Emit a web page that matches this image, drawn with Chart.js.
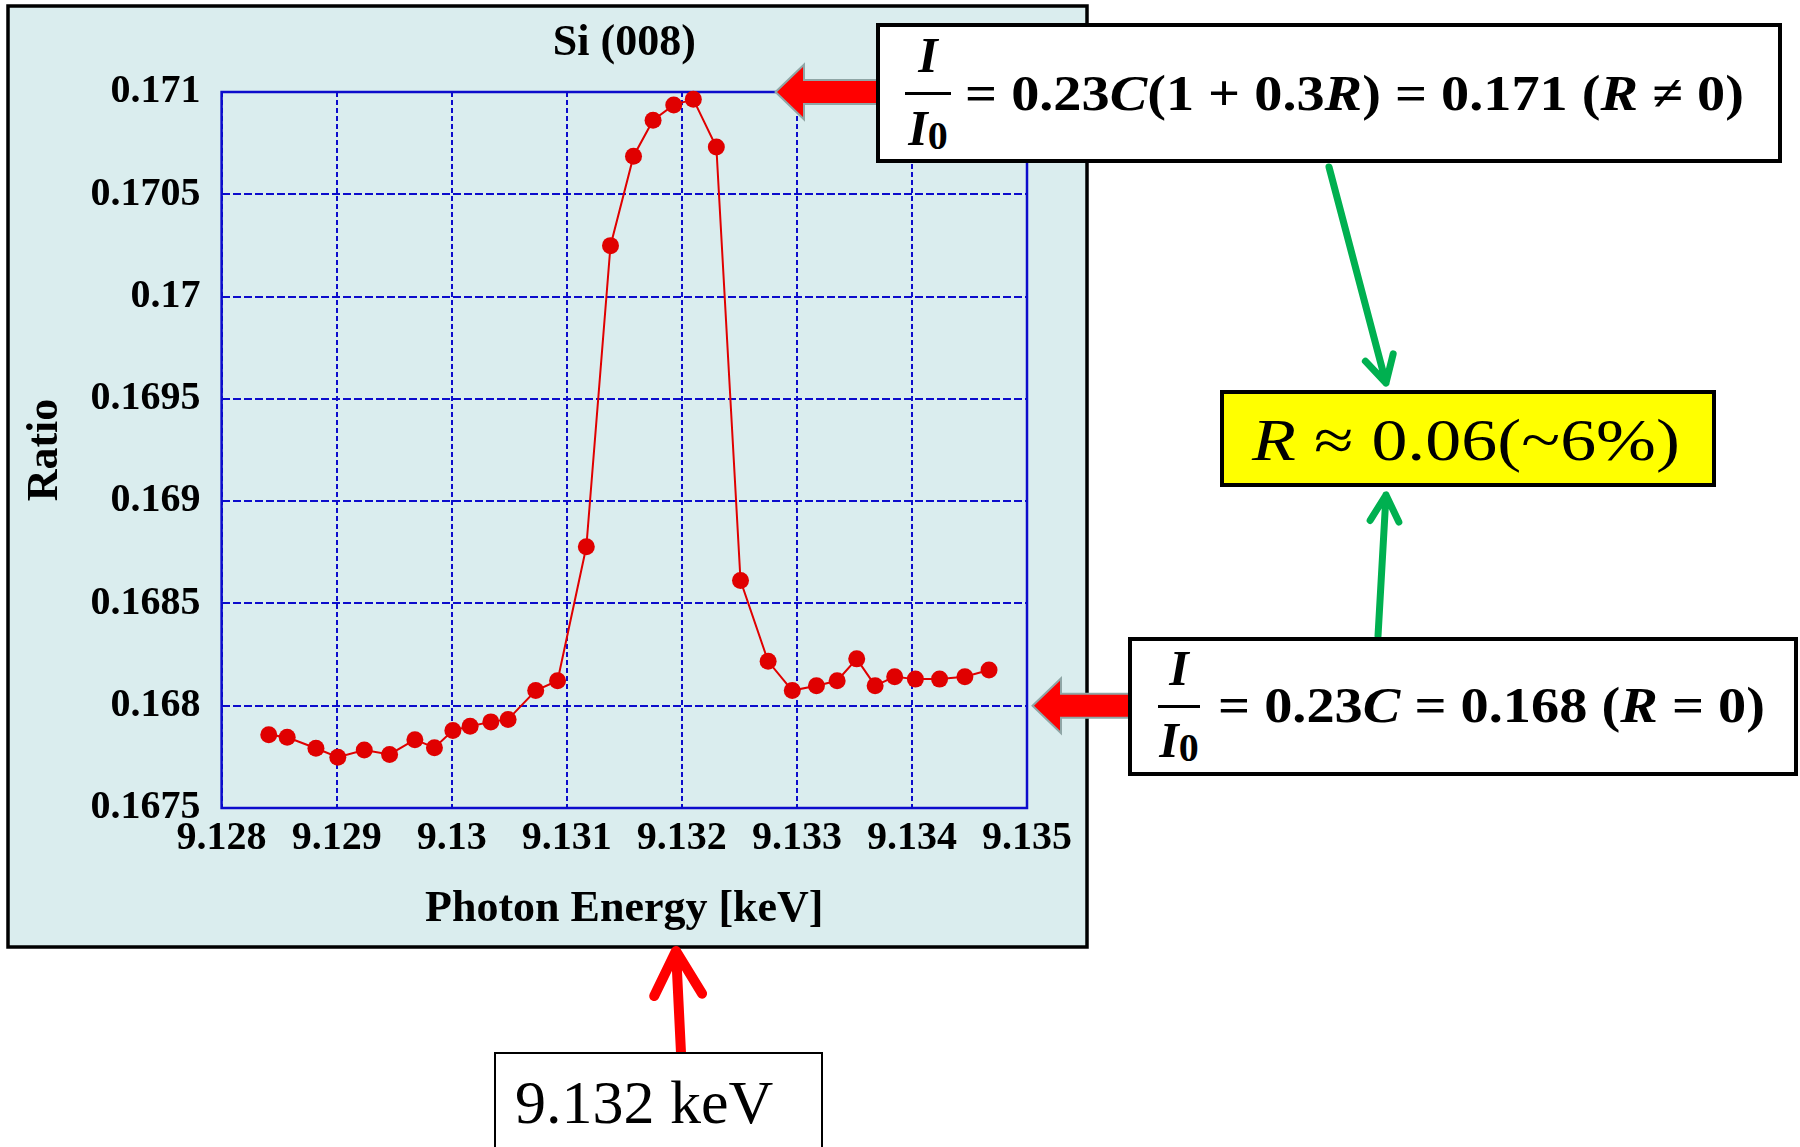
<!DOCTYPE html>
<html lang="en">
<head>
  <meta charset="UTF-8" />
  <title>Si (008) ratio vs photon energy</title>
  <script src="https://cdn.jsdelivr.net/npm/chart.js"></script>
  <style>
    * { box-sizing: border-box; }
    body { margin: 0; background: #fff; overflow: hidden; }
    .stage { position: relative; width: 1800px; height: 1147px; font-family: 'Liberation Serif', 'Times New Roman', serif; color: #000; }
    .stage canvas { position: absolute; left: 0; top: 0; }
    .note { position: absolute; background: #fff; border: 4px solid #000; }
    .note > * { position: absolute; white-space: nowrap; line-height: 1; }
    .eq { font-size: 50px; font-weight: bold; transform-origin: 0 0; }
    .frac { text-align: center; font-size: 50px; font-weight: bold; }
    .frac sub { font-size: 40px; vertical-align: baseline; position: relative; top: 4px; }
    .bar { height: 3px; background: #000; }
    .yellow { background: #ffff00; }
    .plain { font-size: 59px; transform-origin: 0 0; }
    .kev { border-width: 2px; }
    .kev span { font-size: 62px; }
  </style>
</head>
<body>
  <div class="stage">
    <canvas id="chart"></canvas>

    <div class="note" style="left:876px; top:23px; width:906px; height:140px;">
      <div class="frac" style="left:25px; top:3px; width:46px;"><i>I</i></div>
      <div class="bar" style="left:25px; top:65px; width:46px;"></div>
      <div class="frac" style="left:25px; top:76px; width:46px;"><i>I</i><sub>0</sub></div>
      <span class="eq" data-w="779" style="left:85px; top:41px;">= 0.23<i>C</i>(1 + 0.3<i>R</i>) = 0.171 (<i>R</i> ≠ 0)</span>
    </div>

    <div class="note yellow" style="left:1220px; top:390px; width:496px; height:97px;">
      <span class="plain" data-w="428" style="left:28px; top:17px;"><i>R</i> ≈ 0.06(~6%)</span>
    </div>

    <div class="note" style="left:1128px; top:637px; width:670px; height:139px;">
      <div class="frac" style="left:26px; top:2px; width:42px;"><i>I</i></div>
      <div class="bar" style="left:26px; top:64px; width:42px;"></div>
      <div class="frac" style="left:26px; top:74px; width:42px;"><i>I</i><sub>0</sub></div>
      <span class="eq" data-w="547" style="left:86px; top:39px;">= 0.23<i>C</i> = 0.168 (<i>R</i> = 0)</span>
    </div>

    <div class="note kev" style="left:494px; top:1052px; width:329px; height:130px;">
      <span style="left:19px; top:17px;">9.132 keV</span>
    </div>
  </div>

  <script>
    const energy = [
      9.12841, 9.12857, 9.12882, 9.12901, 9.12924, 9.12946, 9.12968, 9.12985,
      9.13001, 9.13016, 9.13034, 9.13049, 9.13073, 9.13092, 9.13117, 9.13138,
      9.13158, 9.13175, 9.13193, 9.13210, 9.13230, 9.13251, 9.13275, 9.13296,
      9.13317, 9.13335, 9.13352, 9.13368, 9.13385, 9.13403, 9.13424, 9.13446,
      9.13467
    ];
    const ratio = [
      0.167858, 0.167846, 0.167792, 0.167748, 0.167783, 0.167762, 0.167834, 0.167795,
      0.167879, 0.167900, 0.167921, 0.167933, 0.168074, 0.168122, 0.168777, 0.170249,
      0.170686, 0.170862, 0.170937, 0.170964, 0.170731, 0.168612, 0.168217, 0.168074,
      0.168098, 0.168122, 0.168229, 0.168098, 0.168142, 0.168130, 0.168130, 0.168142,
      0.168175
    ];

    const xTickValues = [9.128, 9.129, 9.130, 9.131, 9.132, 9.133, 9.134, 9.135];
    const xTickLabels = ['9.128', '9.129', '9.13', '9.131', '9.132', '9.133', '9.134', '9.135'];
    const yTickValues = [0.1675, 0.168, 0.1685, 0.169, 0.1695, 0.170, 0.1705, 0.171];
    const yTickLabels = ['0.1675', '0.168', '0.1685', '0.169', '0.1695', '0.17', '0.1705', '0.171'];

    const serif = "'Liberation Serif', 'Times New Roman', serif";
    const gridBlue = '#0c0ccc';

    function arrowLeft(ctx, tipX, y, tailX) {
      ctx.save();
      ctx.beginPath();
      ctx.moveTo(tipX, y);
      ctx.lineTo(tipX + 26, y - 25);
      ctx.lineTo(tipX + 26, y - 11);
      ctx.lineTo(tailX, y - 11);
      ctx.lineTo(tailX, y + 11);
      ctx.lineTo(tipX + 26, y + 11);
      ctx.lineTo(tipX + 26, y + 25);
      ctx.closePath();
      ctx.lineJoin = 'miter';
      ctx.lineWidth = 4;
      ctx.strokeStyle = '#8fa6a6';
      ctx.stroke();
      ctx.fillStyle = '#ff0000';
      ctx.fill();
      ctx.restore();
    }

    function lineArrow(ctx, x1, y1, x2, y2, color, width, headLen, spread) {
      const a = Math.atan2(y2 - y1, x2 - x1);
      ctx.save();
      ctx.strokeStyle = color;
      ctx.lineWidth = width;
      ctx.lineCap = 'round';
      ctx.lineJoin = 'round';
      ctx.beginPath();
      ctx.moveTo(x1, y1);
      ctx.lineTo(x2, y2);
      ctx.moveTo(x2 - headLen * Math.cos(a - spread), y2 - headLen * Math.sin(a - spread));
      ctx.lineTo(x2, y2);
      ctx.lineTo(x2 - headLen * Math.cos(a + spread), y2 - headLen * Math.sin(a + spread));
      ctx.stroke();
      ctx.restore();
    }

    const decorations = {
      id: 'decorations',
      beforeDraw(chart) {
        const ctx = chart.ctx;
        ctx.save();
        ctx.fillStyle = '#daedee';
        ctx.fillRect(8, 6, 1079, 941);
        ctx.lineWidth = 3.5;
        ctx.strokeStyle = '#000';
        ctx.strokeRect(8, 6, 1079, 941);
        ctx.restore();
      },
      beforeDatasetsDraw(chart) {
        const { ctx, chartArea: a } = chart;
        ctx.save();
        ctx.lineWidth = 2.5;
        ctx.strokeStyle = gridBlue;
        ctx.strokeRect(a.left, a.top, a.right - a.left, a.bottom - a.top);
        ctx.restore();
      },
      afterDraw(chart) {
        const ctx = chart.ctx;
        const y171 = chart.scales.y.getPixelForValue(0.171);
        const y168 = chart.scales.y.getPixelForValue(0.168);
        arrowLeft(ctx, 777, y171, 878);
        arrowLeft(ctx, 1034, y168, 1130);
        lineArrow(ctx, 1329, 167, 1386, 383, '#00b050', 7, 30, 0.5);
        lineArrow(ctx, 1378, 636, 1386, 495, '#00b050', 7, 30, 0.5);
        lineArrow(ctx, 681, 1053, 676, 951, '#ff0000', 10, 50, 0.5);
      }
    };

    const ctx = document.getElementById('chart').getContext('2d');

    new Chart(ctx, {
      type: 'scatter',
      data: {
        datasets: [{
          data: energy.map((e, i) => ({ x: e, y: ratio[i] })),
          showLine: true,
          borderColor: '#e00000',
          borderWidth: 2,
          backgroundColor: '#e00000',
          pointRadius: 8.5,
          pointBorderWidth: 0,
          clip: 12
        }]
      },
      options: {
        responsive: true,
        maintainAspectRatio: false,
        animation: false,
        layout: { padding: { left: 8, top: 6, right: 773, bottom: 200 } },
        plugins: {
          legend: { display: false },
          tooltip: { enabled: false },
          title: {
            display: true,
            text: 'Si (008)',
            fullSize: false,
            color: '#000',
            font: { family: serif, size: 44, weight: 'bold' },
            padding: { top: 11.6, bottom: 21.6 }
          }
        },
        scales: {
          x: {
            type: 'linear',
            min: 9.128,
            max: 9.135,
            afterBuildTicks: (s) => { s.ticks = xTickValues.map(v => ({ value: v })); },
            afterFit: (s) => { s.height = 139; },
            ticks: {
              autoSkip: false,
              maxRotation: 0,
              padding: 7,
              color: '#000',
              font: { family: serif, size: 40, weight: 'bold' },
              callback: (v, i) => xTickLabels[i]
            },
            grid: { color: gridBlue, lineWidth: 2, drawTicks: false },
            border: { display: false, dash: [5, 3] },
            title: {
              display: true,
              text: 'Photon Energy [keV]',
              color: '#000',
              font: { family: serif, size: 44, weight: 'bold' },
              padding: { top: 0, bottom: 11 }
            }
          },
          y: {
            min: 0.1675,
            max: 0.171,
            afterBuildTicks: (s) => { s.ticks = yTickValues.map(v => ({ value: v })); },
            afterFit: (s) => { s.width = 213.6; },
            ticks: {
              autoSkip: false,
              padding: 21,
              color: '#000',
              font: { family: serif, size: 40, weight: 'bold' },
              callback: (v, i) => yTickLabels[i]
            },
            grid: { color: gridBlue, lineWidth: 2, drawTicks: false },
            border: { display: false, dash: [8, 3] },
            title: {
              display: true,
              text: 'Ratio',
              color: '#000',
              font: { family: serif, size: 44, weight: 'bold' },
              padding: { top: 11, bottom: 0 }
            }
          }
        }
      },
      plugins: [decorations]
    });

    // stretch the formula lines to the widths they have in the figure
    document.querySelectorAll('[data-w]').forEach(el => {
      const w = el.getBoundingClientRect().width;
      if (w) el.style.transform = 'scaleX(' + (el.dataset.w / w) + ')';
    });
  </script>
</body>
</html>
